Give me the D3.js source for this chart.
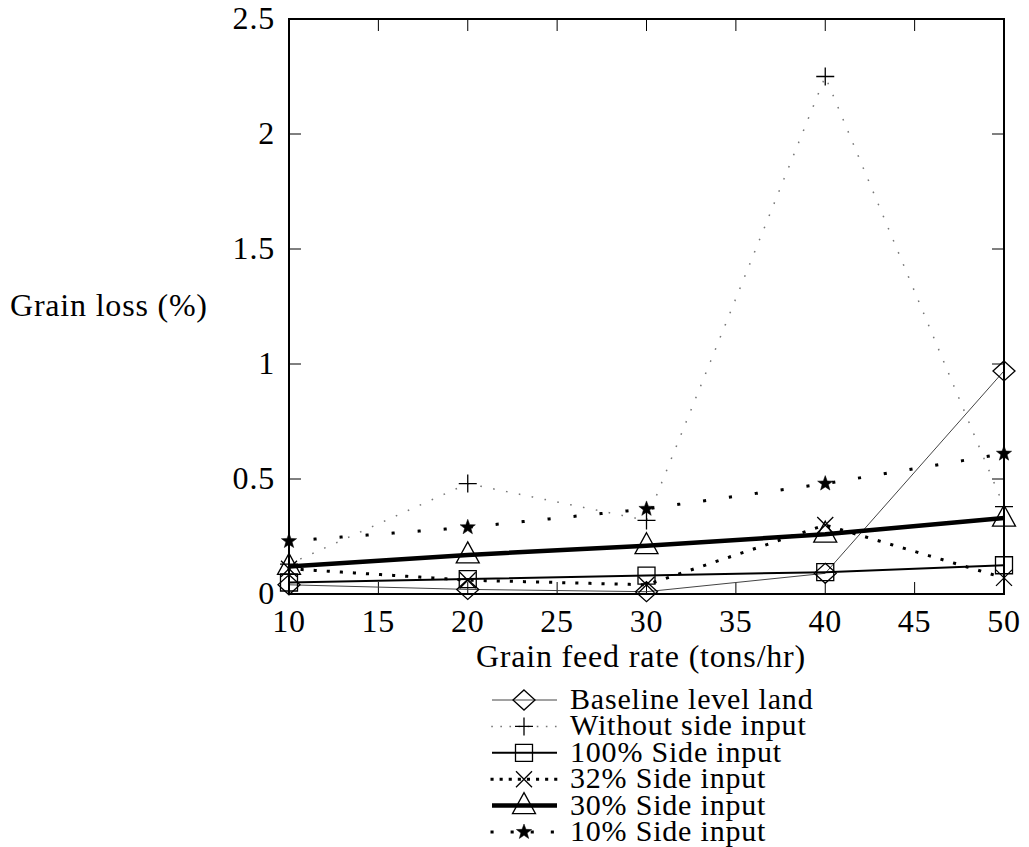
<!DOCTYPE html>
<html>
<head>
<meta charset="utf-8">
<script src="https://cdn.jsdelivr.net/npm/d3@7"></script>
<style>
  body { margin: 0; background: #fff; }
  text { font-family: "Liberation Serif", "DejaVu Serif", serif; fill: #000; letter-spacing: 0.8px; }
</style>
</head>
<body>
<div id="chart"></div>
<script>
// data
var feedRate = [10, 20, 30, 40, 50];
var baseline = [0.04, 0.02, 0.01, 0.09, 0.97];
var withoutSide = [0.13, 0.48, 0.32, 2.25, 0.38];
var side100 = [0.05, 0.065, 0.08, 0.095, 0.125];
var side32 = [0.11, 0.06, 0.04, 0.30, 0.07];
var side30 = [0.12, 0.17, 0.21, 0.26, 0.33];
var side10 = [0.23, 0.29, 0.37, 0.48, 0.61];

var xTicks = [10, 15, 20, 25, 30, 35, 40, 45, 50];
var yTicks = [0, 0.5, 1, 1.5, 2, 2.5];

var seriesNames = ["Baseline level land", "Without side input", "100% Side input",
                   "32% Side input", "30% Side input", "10% Side input"];
var seriesValues = [baseline, withoutSide, side100, side32, side30, side10];
var seriesMarks = ["diamond", "plus", "square", "times", "triangle", "star"];

// line look for each series
var lineStyle = [
    {width: 1, color: "#444", dash: null, cap: "butt"},
    {width: 1.5, color: "#777", dash: "0.1,13", cap: "square"},
    {width: 2, color: "#000", dash: null, cap: "butt"},
    {width: 3, color: "#000", dash: "0.1,13", cap: "square"},
    {width: 4.5, color: "#000", dash: null, cap: "butt"},
    {width: 3, color: "#000", dash: "0.1,26", cap: "square"}
];

var width = 1029;
var height = 847;
var plotLeft = 289, plotRight = 1004, plotTop = 19, plotBottom = 594;
var fontSize = "32px";

var svg = d3.select("#chart").append("svg")
    .attr("width", width)
    .attr("height", height);

var x = d3.scaleLinear().domain([10, 50]).range([plotLeft, plotRight]);
var y = d3.scaleLinear().domain([0, 2.5]).range([plotBottom, plotTop]);

function markPath(kind) {
    switch (kind) {
        case "diamond": return "M0,-10L11,0L0,10L-11,0Z";
        case "plus": return "M-9,0H9M0,-9V9";
        case "square": return "M-8.5,-8.5H8.5V8.5H-8.5Z";
        case "times": return "M-8,-8L8,8M-8,8L8,-8";
        case "triangle": return "M0,-13L11.5,8H-11.5Z";
        case "star":
            var p = "";
            for (var k = 0; k < 10; k++) {
                var r = (k % 2 == 0) ? 8 : 3.3;
                var a = -Math.PI / 2 + k * Math.PI / 5;
                p += (k == 0 ? "M" : "L") + (r * Math.cos(a)).toFixed(2) + "," + (r * Math.sin(a)).toFixed(2);
            }
            return p + "Z";
    }
}

function drawMark(g, kind, cx, cy) {
    g.append("path")
        .attr("d", markPath(kind))
        .attr("transform", "translate(" + cx + "," + cy + ")")
        .attr("fill", kind == "star" ? "#000" : "none")
        .attr("stroke", "#000")
        .attr("stroke-width", kind == "star" ? 0.5 : 1.3);
}

// ticks (inside, on all four sides)
var tickLen = 12;
var ticks = svg.append("g").attr("stroke", "#000").attr("stroke-width", 1);
xTicks.forEach(function(t) {
    ticks.append("line").attr("x1", x(t)).attr("x2", x(t)).attr("y1", plotBottom).attr("y2", plotBottom - tickLen);
    ticks.append("line").attr("x1", x(t)).attr("x2", x(t)).attr("y1", plotTop).attr("y2", plotTop + tickLen);
});
yTicks.forEach(function(t) {
    ticks.append("line").attr("x1", plotLeft).attr("x2", plotLeft + tickLen).attr("y1", y(t)).attr("y2", y(t));
    ticks.append("line").attr("x1", plotRight).attr("x2", plotRight - tickLen).attr("y1", y(t)).attr("y2", y(t));
});

// tick labels
svg.selectAll("text.xt")
    .data(xTicks)
    .enter()
    .append("text")
    .attr("class", "xt")
    .attr("x", function(d) { return x(d); })
    .attr("y", 632)
    .attr("text-anchor", "middle")
    .attr("font-size", fontSize)
    .text(function(d) { return d; });

svg.selectAll("text.yt")
    .data(yTicks)
    .enter()
    .append("text")
    .attr("class", "yt")
    .attr("x", 275)
    .attr("y", function(d) { return y(d) + 10; })
    .attr("text-anchor", "end")
    .attr("font-size", fontSize)
    .text(function(d) { return d; });

// axis titles
svg.append("text")
    .attr("x", 10)
    .attr("y", 316)
    .attr("font-size", fontSize)
    .text("Grain loss (%)");

svg.append("text")
    .attr("x", 641)
    .attr("y", 667)
    .attr("text-anchor", "middle")
    .attr("font-size", fontSize)
    .text("Grain feed rate (tons/hr)");

// series
var line = d3.line()
    .x(function(d, i) { return x(feedRate[i]); })
    .y(function(d) { return y(d); });

seriesValues.forEach(function(vals, s) {
    var st = lineStyle[s];
    svg.append("path")
        .datum(vals)
        .attr("d", line)
        .attr("fill", "none")
        .attr("stroke", st.color)
        .attr("stroke-width", st.width)
        .attr("stroke-linecap", st.cap)
        .attr("stroke-dasharray", st.dash);
    var g = svg.append("g");
    vals.forEach(function(v, i) {
        drawMark(g, seriesMarks[s], x(feedRate[i]), y(v));
    });
});

// frame
svg.append("rect")
    .attr("x", plotLeft)
    .attr("y", plotTop)
    .attr("width", plotRight - plotLeft)
    .attr("height", plotBottom - plotTop)
    .attr("fill", "none")
    .attr("stroke", "#000")
    .attr("stroke-width", 2);

// legend
var legY0 = 700, legStep = 26.4;
seriesNames.forEach(function(name, s) {
    var st = lineStyle[s];
    var ly = legY0 + s * legStep;
    svg.append("line")
        .attr("x1", 492).attr("x2", 557)
        .attr("y1", ly).attr("y2", ly)
        .attr("stroke", st.color)
        .attr("stroke-width", st.width)
        .attr("stroke-linecap", st.cap)
        .attr("stroke-dasharray", st.dash == null ? null : (s == 5 ? "0.1,20" : "0.1,9"));
    var g = svg.append("g");
    drawMark(g, seriesMarks[s], 524, ly);
    svg.append("text")
        .attr("x", 570)
        .attr("y", ly + 9)
        .attr("font-size", "30px")
        .text(name);
});
</script>
</body>
</html>
